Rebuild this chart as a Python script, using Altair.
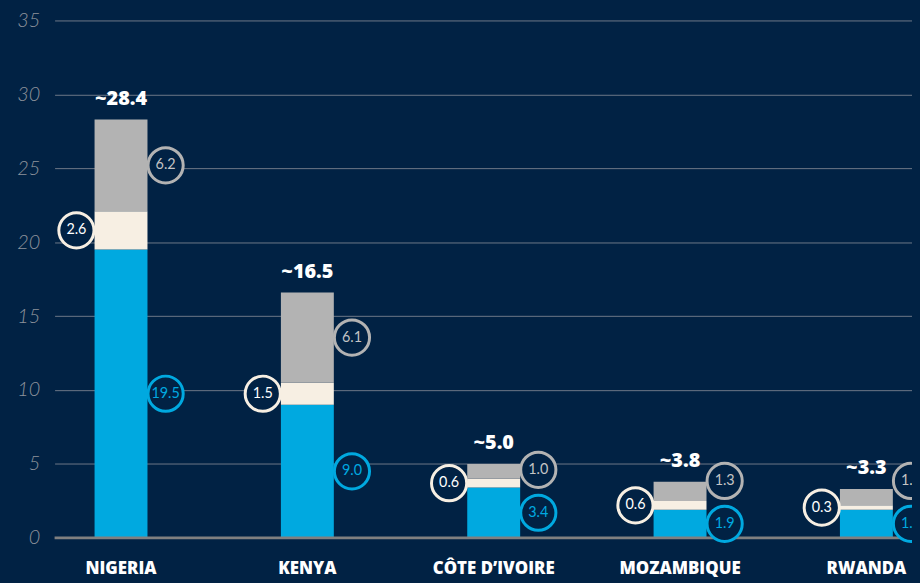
import altair as alt
import pandas as pd

countries = ["NIGERIA", "KENYA", "CÔTE D’IVOIRE", "MOZAMBIQUE", "RWANDA"]
blue_vals = [19.5, 9.0, 3.4, 1.9, 1.9]
cream_vals = [2.6, 1.5, 0.6, 0.6, 0.3]
gray_vals = [6.2, 6.1, 1.0, 1.3, 1.1]
total_labels = ["~28.4", "~16.5", "~5.0", "~3.8", "~3.3"]
y_ticks = [0, 5, 10, 15, 20, 25, 30, 35]

NAVY = "#012244"
BLUE = "#00a9e0"
CREAM = "#f7efe3"
GRAY = "#b3b3b3"

# make the page behind the chart navy as well (the page margin)
try:
    import altair.utils.mimebundle as _mb

    _orig_spec_to_html = _mb.spec_to_html

    def _spec_to_html_navy(*args, **kwargs):
        html = _orig_spec_to_html(*args, **kwargs)
        return html.replace(
            "<head>", "<head><style>html,body{background:%s;}</style>" % NAVY, 1
        )

    _mb.spec_to_html = _spec_to_html_navy
except Exception:
    pass

# long form for the stacked bars
rows = []
for i, c in enumerate(countries):
    rows.append({"country": c, "segment": "blue", "ord": 0, "value": blue_vals[i]})
    rows.append({"country": c, "segment": "cream", "ord": 1, "value": cream_vals[i]})
    rows.append({"country": c, "segment": "gray", "ord": 2, "value": gray_vals[i]})
long_df = pd.DataFrame(rows)

# wide form for the labels
wide = pd.DataFrame({
    "country": countries,
    "blue": blue_vals,
    "cream": cream_vals,
    "gray": gray_vals,
    "total_label": total_labels,
})
wide["total"] = wide["blue"] + wide["cream"] + wide["gray"]
wide["blue_mid"] = wide["blue"] / 2
wide["cream_mid"] = wide["blue"] + wide["cream"] / 2
wide["gray_pos"] = pd.concat(
    [wide["blue"] + wide["cream"] + wide["gray"] / 2, wide["blue_mid"] + 2.9], axis=1
).max(axis=1)

x_axis = alt.Axis(
    title=None, labelAngle=0, labelFont="Open Sans", labelFontWeight=800,
    labelFontSize=17, labelColor="white", labelPadding=23, ticks=False,
    domain=False, grid=False,
)
x_scale = alt.Scale(range=[0, 886], paddingInner=0.716, paddingOuter=0.2145, round=False)
y_axis = alt.Axis(
    title=None, values=y_ticks, labelFont="Lato", labelFontStyle="italic",
    labelFontWeight=300, labelFontSize=20, labelColor="#8d929b", labelPadding=15,
    ticks=False, domain=False, gridColor="#6e7888", gridWidth=1,
)
y_scale = alt.Scale(domain=[0, 35], nice=False, zero=True)


def X():
    return alt.X("country:N", sort=countries, scale=x_scale, axis=x_axis)


def Y(field):
    return alt.Y(field, scale=y_scale, axis=y_axis)


bars = alt.Chart(long_df).mark_bar().encode(
    x=X(),
    y=alt.Y("value:Q", stack="zero", scale=y_scale, axis=y_axis),
    color=alt.Color("segment:N", scale=alt.Scale(domain=["blue", "cream", "gray"],
                                                 range=[BLUE, CREAM, GRAY]), legend=None),
    order=alt.Order("ord:Q"),
)

zero_line = alt.Chart(pd.DataFrame({"z": [0]})).mark_rule(
    color="#808080", strokeWidth=3
).encode(y=Y("z:Q"))

totals = alt.Chart(wide).mark_text(
    font="Open Sans", fontWeight=800, fontSize=20, color="white",
    baseline="alphabetic", dy=-15,
).encode(x=X(), y=Y("total:Q"), text="total_label:N")

R = 1260
OFF = 45


def circle_layer(field, stroke, offset):
    return alt.Chart(wide).mark_circle(
        size=R, fill=NAVY, stroke=stroke, strokeWidth=3, opacity=1, xOffset=offset,
    ).encode(x=X(), y=Y(field))


def circle_text(field, val, color, offset):
    return alt.Chart(wide).mark_text(
        font="Lato", fontSize=14.5, color=color, baseline="middle", xOffset=offset,
    ).encode(x=X(), y=Y(field), text=alt.Text(val, format=".1f"))


layers = [
    bars,
    zero_line,
    totals,
    circle_layer("cream_mid:Q", CREAM, -OFF),
    circle_text("cream_mid:Q", "cream:Q", "white", -OFF),
    circle_layer("gray_pos:Q", GRAY, OFF),
    circle_text("gray_pos:Q", "gray:Q", "#c4c4c4", OFF),
    circle_layer("blue_mid:Q", BLUE, OFF),
    circle_text("blue_mid:Q", "blue:Q", BLUE, OFF),
]

chart = alt.layer(*layers).properties(
    width=865, height=522,
    autosize=alt.AutoSizeParams(type="none"),
    padding={"left": 47, "top": 10, "right": 0, "bottom": 45},
    background=NAVY,
).configure_view(stroke=None)

chart.save("out.html", embed_options={"renderer": "svg", "actions": False})
